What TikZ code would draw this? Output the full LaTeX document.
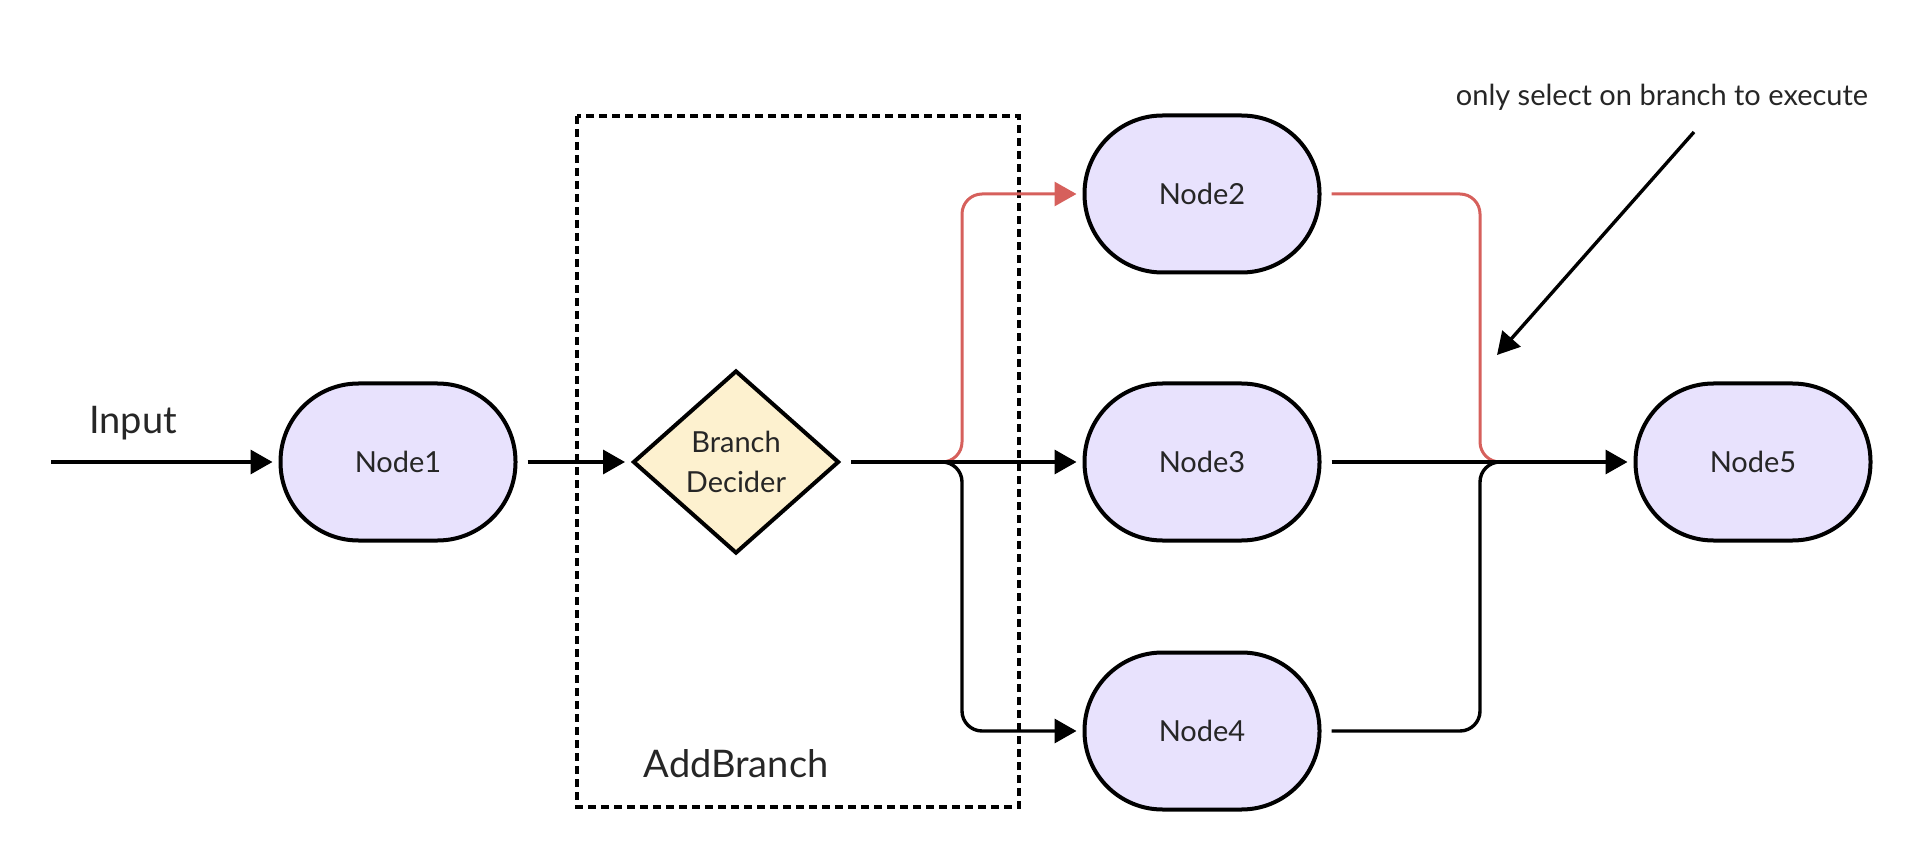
\documentclass[tikz,border=0pt]{standalone}
\usepackage{fontspec}
\setmainfont{Lato}
\usetikzlibrary{arrows.meta,shapes.geometric,calc}
\definecolor{nodefill}{HTML}{E8E2FD}
\definecolor{decfill}{HTML}{FDF1CF}
\definecolor{redline}{HTML}{D6605C}
\definecolor{txt}{HTML}{262626}
\tikzset{
  term/.style={rectangle, draw=black, line width=2pt, fill=nodefill,
    minimum width=117.5pt, minimum height=78.5pt, rounded corners=39pt,
    text=txt, font=\fontsize{14.5}{17}\selectfont},
  decider/.style={diamond, draw=black, line width=2pt, fill=decfill,
    minimum width=103pt, minimum height=91.5pt, inner sep=0pt, aspect=1.13,
    text=txt, align=center, font=\fontsize{14.5}{20}\selectfont},
  conn/.style={line width=1.7pt, draw=black, rounded corners=10pt,
    -{Triangle[length=11pt,width=12pt]}, shorten <=5pt, shorten >=3pt},
  plainconn/.style={line width=1.7pt, draw=black, rounded corners=10pt, shorten <=5pt},
  redconn/.style={conn, draw=redline, line width=1.5pt, shorten <=0pt, -{Triangle[length=11pt,width=12pt,fill=redline]}},
  redplain/.style={plainconn, draw=redline, line width=1.5pt},
  groupbox/.style={draw=black, line width=1.8pt, dash pattern=on 4pt off 2.5pt},
  bigtext/.style={text=txt, font=\fontsize{19}{22}\selectfont},
  smalltext/.style={text=txt, font=\fontsize{14.5}{17}\selectfont}
}
\begin{document}
\begin{tikzpicture}[x=0.5pt,y=-0.5pt]
\useasboundingbox (0,0) rectangle (1921,855);
% group box
\draw[groupbox] (577,116) rectangle (1019,807);
\node[bigtext] (grp) at (736,764) {AddBranch};
% nodes
\coordinate (inStart) at (51,462);
\node[bigtext] (inlabel) at (133,423) {Input};
\node[term] (n1) at (398,462) {Node1};
\node[decider] (dec) at (736,462) {Branch\\Decider};
\node[term] (n2) at (1202,194) {Node2};
\node[term] (n3) at (1202,462) {Node3};
\node[term] (n4) at (1202,731) {Node4};
\node[term] (n5) at (1753,462) {Node5};
\coordinate (jl) at (962,462);
\coordinate (jr) at (1480,462);
\coordinate (redStart) at (940,462);
\coordinate (redEnd) at (1501,462);
% red branch (selected)
\draw[redconn] (redStart) -- (jl) -- (jl |- n2.west) -- (n2.west);
\draw[redplain] (n2.east) -- (jr |- n2.east) -- (jr) -- (redEnd);
% black connectors
\draw[conn, shorten <=0pt] (inStart) -- (n1);
\draw[conn] (n1) -- (dec);
\draw[conn] (dec.east) -- (jl) -- (jl |- n4.west) -- (n4.west);
\draw[plainconn] (n4.east) -- (jr |- n4.east) -- (jr) -- (redEnd);
\draw[conn] (dec.east) -- (n3.west);
\draw[conn] (n3.east) -- (n5.west);
% annotation
\node[smalltext] (ann) at (1662,97) {only select on branch to execute};
\coordinate (annStart) at (1694,132);
\coordinate (annTip) at (1497,355);
\draw[line width=1.7pt, -{Triangle[length=11pt,width=12pt]}] (annStart) -- (annTip);
\end{tikzpicture}
\end{document}
